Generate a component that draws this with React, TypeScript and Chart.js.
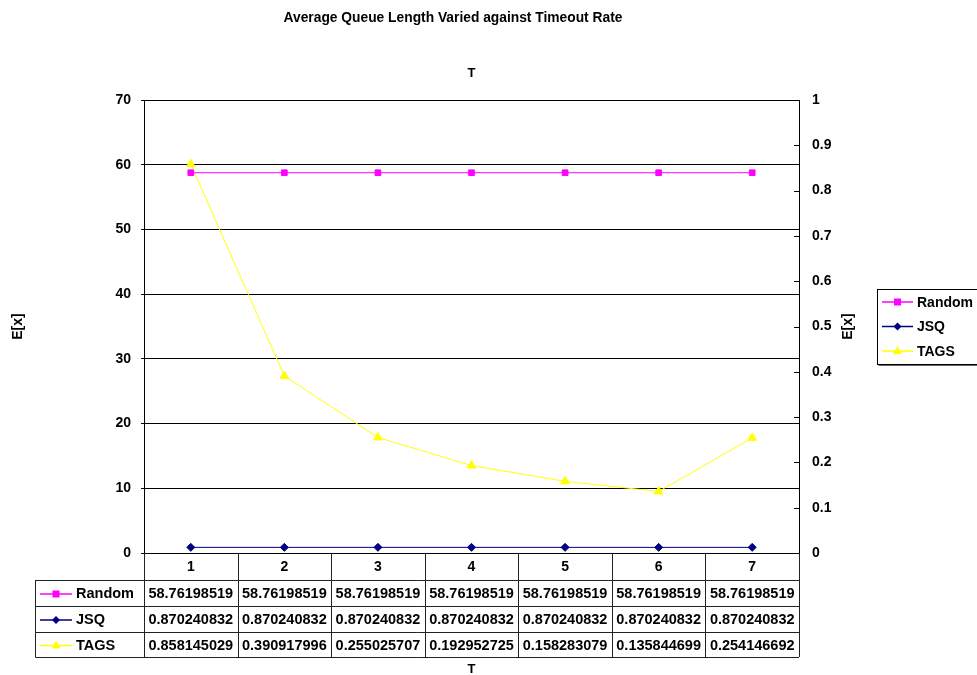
import React, { useEffect, useRef } from "react";
import { Chart, registerables } from "chart.js";

Chart.register(...registerables);

const categories = ["1", "2", "3", "4", "5", "6", "7"];
const randomValues = [58.76198519, 58.76198519, 58.76198519, 58.76198519, 58.76198519, 58.76198519, 58.76198519];
const jsqValues = [0.870240832, 0.870240832, 0.870240832, 0.870240832, 0.870240832, 0.870240832, 0.870240832];
const tagsValues = [0.858145029, 0.390917996, 0.255025707, 0.192952725, 0.158283079, 0.135844699, 0.254146692];

const chartTitle = "Average Queue Length Varied against Timeout Rate";
const axisLabelX = "T";
const axisLabelY = "E[x]";

const FONT = "Liberation Sans, Arial, sans-serif";

type SeriesInfo = { label: string; color: string; marker: string; values: number[] };
const seriesList: SeriesInfo[] = [
  { label: "Random", color: "#FF00FF", marker: "square", values: randomValues },
  { label: "JSQ", color: "#000080", marker: "diamond", values: jsqValues },
  { label: "TAGS", color: "#FFFF00", marker: "triangle", values: tagsValues },
];

function drawMarker(ctx: CanvasRenderingContext2D, kind: string, x: number, y: number, color: string) {
  ctx.save();
  ctx.fillStyle = color;
  ctx.beginPath();
  if (kind === "square") {
    ctx.rect(x - 3.5, y - 3.5, 7, 7);
  } else if (kind === "diamond") {
    ctx.moveTo(x, y - 4);
    ctx.lineTo(x + 4, y);
    ctx.lineTo(x, y + 4);
    ctx.lineTo(x - 4, y);
    ctx.closePath();
  } else {
    ctx.moveTo(x, y - 5);
    ctx.lineTo(x + 4.5, y + 3);
    ctx.lineTo(x - 4.5, y + 3);
    ctx.closePath();
  }
  ctx.fill();
  ctx.restore();
}

function legendKey(ctx: CanvasRenderingContext2D, s: SeriesInfo, x0: number, x1: number, y: number) {
  ctx.save();
  ctx.strokeStyle = s.color;
  ctx.lineWidth = 1.5;
  ctx.beginPath();
  ctx.moveTo(x0, y);
  ctx.lineTo(x1, y);
  ctx.stroke();
  ctx.restore();
  drawMarker(ctx, s.marker, (x0 + x1) / 2, y, s.color);
}

const overlayPlugin = {
  id: "overlay",
  afterDraw(chart: any) {
    const ctx: CanvasRenderingContext2D = chart.ctx;
    const ca = chart.chartArea;
    const xs = chart.scales.x;
    const y1 = chart.scales.y1;
    ctx.save();
    ctx.fillStyle = "#000";
    ctx.textBaseline = "middle";

    // Title
    ctx.font = `bold 13.8px ${FONT}`;
    ctx.textAlign = "center";
    ctx.fillText(chartTitle, 453, 18);
    // top T
    ctx.font = `bold 13px ${FONT}`;
    ctx.fillText(axisLabelX, (ca.left + ca.right) / 2, 73);
    // bottom T
    ctx.fillText(axisLabelX, (ca.left + ca.right) / 2, 669);

    // y titles
    const midY = (ca.top + ca.bottom) / 2;
    ctx.font = `bold 14px ${FONT}`;
    ctx.save();
    ctx.translate(18, midY);
    ctx.rotate(-Math.PI / 2);
    ctx.fillText(axisLabelY, 0, 0);
    ctx.restore();
    ctx.save();
    ctx.translate(848, midY);
    ctx.rotate(-Math.PI / 2);
    ctx.fillText(axisLabelY, 0, 0);
    ctx.restore();

    // right axis inner tick marks
    ctx.strokeStyle = "#000";
    ctx.lineWidth = 1;
    y1.ticks.forEach((t: any) => {
      const py = Math.round(y1.getPixelForValue(t.value)) + 0.5;
      ctx.beginPath();
      ctx.moveTo(ca.right - 5, py);
      ctx.lineTo(ca.right, py);
      ctx.stroke();
    });

    // Legend box
    const lx = 877.5, ly = 289.5, lw = 110, lh = 75;
    ctx.fillStyle = "#fff";
    ctx.fillRect(lx, ly, lw, lh);
    ctx.strokeStyle = "#000";
    ctx.strokeRect(lx, ly, lw, lh);
    // shadow
    ctx.fillStyle = "#666";
    ctx.fillRect(lx + 1, ly + lh + 0.5, lw, 1);
    ctx.font = `bold 14px ${FONT}`;
    ctx.textAlign = "left";
    seriesList.forEach((s, i) => {
      const yy = 302 + i * 24.5;
      legendKey(ctx, s, 882, 913, yy);
      ctx.fillStyle = "#000";
      ctx.fillText(s.label, 917, yy + 1);
    });

    // Data table
    const colW = (ca.right - ca.left) / categories.length;
    const top = ca.bottom;
    const tableLeft = 35.5;
    const rows = [top, top + 27, top + 53, top + 79, top + 104];
    ctx.strokeStyle = "#222";
    ctx.lineWidth = 1;
    for (let r = 1; r < rows.length; r++) {
      const yy = Math.round(rows[r]) + 0.5;
      ctx.beginPath();
      ctx.moveTo(tableLeft, yy);
      ctx.lineTo(ca.right, yy);
      ctx.stroke();
    }
    for (let c = 0; c <= categories.length; c++) {
      const xx = Math.round(ca.left + c * colW) + 0.5;
      ctx.beginPath();
      ctx.moveTo(xx, rows[0]);
      ctx.lineTo(xx, rows[4]);
      ctx.stroke();
    }
    ctx.beginPath();
    ctx.moveTo(tableLeft, rows[1]);
    ctx.lineTo(tableLeft, rows[4] + 0.5);
    ctx.stroke();

    ctx.fillStyle = "#000";
    ctx.font = `bold 14px ${FONT}`;
    ctx.textAlign = "center";
    categories.forEach((c, i) => {
      ctx.fillText(c, xs.getPixelForValue(i), (rows[0] + rows[1]) / 2 + 1);
    });
    seriesList.forEach((s, r) => {
      const yy = (rows[r + 1] + rows[r + 2]) / 2 + 1;
      legendKey(ctx, s, 40, 72, yy);
      ctx.fillStyle = "#000";
      ctx.font = `bold 14.5px ${FONT}`;
      ctx.textAlign = "left";
      ctx.fillText(s.label, 76, yy);
      ctx.textAlign = "center";
      s.values.forEach((v, i) => {
        ctx.fillText(String(v), xs.getPixelForValue(i), yy);
      });
    });
    ctx.restore();
  },
};

export default function App() {
  const ref = useRef<HTMLCanvasElement | null>(null);
  useEffect(() => {
    if (!ref.current) return;
    const chart = new Chart(ref.current, {
      type: "line",
      data: {
        labels: categories,
        datasets: [
          {
            label: "Random",
            data: randomValues,
            borderColor: "#FF00FF",
            backgroundColor: "#FF00FF",
            borderWidth: 1,
            pointStyle: "rect",
            pointRadius: 4,
            yAxisID: "y",
          },
          {
            label: "JSQ",
            data: jsqValues,
            borderColor: "#000080",
            backgroundColor: "#000080",
            borderWidth: 1,
            pointStyle: "rectRot",
            pointRadius: 4,
            yAxisID: "y",
          },
          {
            label: "TAGS",
            data: tagsValues,
            borderColor: "#FFFF00",
            backgroundColor: "#FFFF00",
            borderWidth: 1,
            pointStyle: "triangle",
            pointRadius: 5,
            yAxisID: "y1",
          },
        ],
      },
      options: {
        animation: false,
        responsive: false,
        layout: { padding: { left: 0, right: 0, top: 100, bottom: 122 } },
        plugins: {
          legend: { display: false },
          title: { display: false },
          tooltip: { enabled: false },
        },
        scales: {
          x: {
            display: false,
            offset: true,
          },
          y: {
            position: "left",
            min: 0,
            max: 70,
            ticks: {
              stepSize: 10,
              color: "#000",
              padding: 10,
              font: { family: FONT, size: 14, weight: "bold" },
            },
            grid: { color: "#000", tickColor: "#000", tickLength: 3 },
            border: { color: "#000" },
            afterFit: (s: any) => {
              s.width = 144;
            },
          },
          y1: {
            position: "right",
            min: 0,
            max: 1,
            ticks: {
              stepSize: 0.1,
              color: "#000",
              padding: 13,
              font: { family: FONT, size: 14, weight: "bold" },
              callback: (v: number) => String(Math.round(v * 10) / 10),
            },
            grid: { drawOnChartArea: false, drawTicks: false },
            border: { color: "#000" },
            afterFit: (s: any) => {
              s.width = 178;
            },
          },
        },
      } as any,
      plugins: [overlayPlugin],
    });
    return () => chart.destroy();
  }, []);
  return (
    <div style={{ position: "fixed", left: 0, top: 0, width: 977, height: 675, background: "#fff" }}>
      <canvas ref={ref} width={977} height={675} style={{ display: "block" }} />
    </div>
  );
}
